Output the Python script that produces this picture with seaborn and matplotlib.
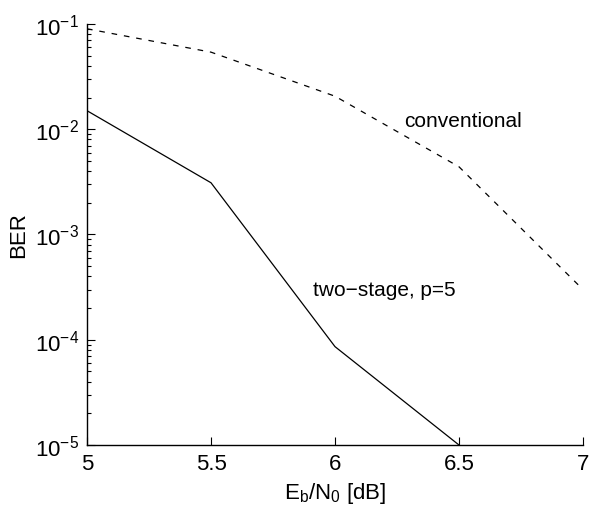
import numpy as np
import matplotlib.pyplot as plt
import seaborn as sns
import pandas as pd

# Eb/N0 in dB
snr = [5.0, 5.5, 6.0, 6.5, 7.0]
ber_conventional = [0.090, 0.054, 0.0206, 0.0044, 0.00030]
snr_two_stage = [5.0, 5.5, 6.0, 6.5]
ber_two_stage = [0.015, 0.0031, 8.6e-5, 1.0e-5]

df_conv = pd.DataFrame({"snr": snr, "ber": ber_conventional})
df_two = pd.DataFrame({"snr": snr_two_stage, "ber": ber_two_stage})

sns.set_style("ticks")
plt.rcParams['font.family'] = ['Liberation Sans', 'DejaVu Sans']
plt.rcParams['mathtext.fontset'] = 'custom'
plt.rcParams['mathtext.rm'] = 'Liberation Sans'
plt.rcParams['mathtext.it'] = 'Liberation Sans'
plt.rcParams['mathtext.default'] = 'regular'
plt.rcParams['text.color'] = 'black'
plt.rcParams['axes.labelcolor'] = 'black'

fig = plt.figure(figsize=(6.01, 5.10), dpi=100)
ax = fig.add_axes([0.1448, 0.1255, 0.8252, 0.8255])

sns.lineplot(data=df_conv, x="snr", y="ber", ax=ax, color="black",
             linewidth=0.9)
ax.lines[-1].set_linestyle((0, (4.5, 5.5)))
sns.lineplot(data=df_two, x="snr", y="ber", ax=ax, color="black",
             linewidth=0.9)

ax.set_yscale("log")
ax.set_xlim(5, 7)
ax.set_ylim(1e-5, 1e-1)
ax.set_xticks([5, 5.5, 6, 6.5, 7])
ax.set_xticklabels(["5", "5.5", "6", "6.5", "7"])

ax.tick_params(axis="both", which="both", direction="in", labelsize=16,
               color="black", labelcolor="black", width=0.8)
ax.tick_params(axis="both", which="major", length=6, pad=6)
ax.tick_params(axis="y", which="minor", length=3)

sns.despine(ax=ax)
for s in ["left", "bottom"]:
    ax.spines[s].set_color("black")
    ax.spines[s].set_linewidth(1.0)

ax.set_xlabel(r"E$_\mathrm{b}$/N$_0$ [dB]", fontsize=16, labelpad=4)
ax.set_ylabel("BER", fontsize=16, labelpad=4)

ax.text(6.28, 0.012, "conventional", fontsize=15, va="center", ha="left")
ax.text(5.91, 3.0e-4, "two\u2212stage, p=5", fontsize=15, va="center", ha="left")

plt.savefig("out.png", dpi=100)
